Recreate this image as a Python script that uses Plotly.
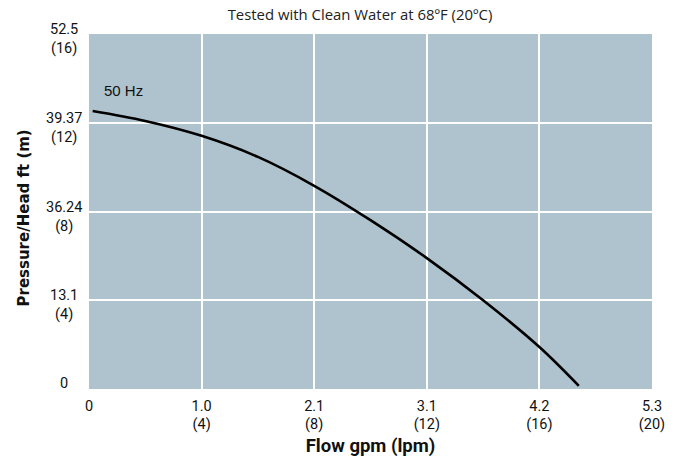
import plotly.graph_objects as go

# pump curve (lpm vs metres of head)
flow_lpm = [0.13, 2, 4, 6, 8, 10, 12, 14, 16, 17.4]
head_m = [12.53, 12.08, 11.41, 10.46, 9.16, 7.61, 5.9, 4.0, 1.89, 0.14]

x_ticks = [0, 4, 8, 12, 16, 20]
x_labels = ["0", "1.0<br>(4)", "2.1<br>(8)", "3.1<br>(12)", "4.2<br>(16)", "5.3<br>(20)"]
y_ticks = [0, 4, 8, 12, 16]
y_labels = ["0", "13.1<br>(4)", "36.24<br>(8)", "39.37<br>(12)", "52.5<br>(16)"]

tick_font = "Roboto, Liberation Sans, sans-serif"
plot_bg = "#aec3cd"

fig = go.Figure()
fig.add_trace(go.Scatter(
    x=flow_lpm, y=head_m, mode="lines",
    line=dict(color="black", width=2.6, shape="spline", smoothing=1.0),
    showlegend=False, hoverinfo="skip",
))

# y labels as centred annotations (two-line labels are centred in the original)
for val, txt in zip(y_ticks, y_labels):
    fig.add_annotation(
        x=0, xref="paper", y=val, yref="y", text=txt, showarrow=False,
        xanchor="center", yanchor="middle", align="center",
        xshift=-25, yshift=6 if val == 0 else -5,
        font=dict(family=tick_font, size=14.5, color="#111"),
    )

fig.add_annotation(
    x=0.46, y=13.47, text="50 Hz", showarrow=False, xanchor="left",
    font=dict(family="Liberation Sans, Arial, sans-serif", size=15, color="#111"),
)

fig.update_layout(
    width=674, height=459,
    margin=dict(l=89, r=22, t=34, b=70),
    paper_bgcolor="white", plot_bgcolor=plot_bg,
    title=dict(
        text="Tested with Clean Water at 68ºF (20ºC)",
        x=360 / 674, xanchor="center", y=1 - 15 / 459, yanchor="middle",
        font=dict(family="Open Sans, Noto Sans, sans-serif", size=14.9, color="#222"),
    ),
    xaxis=dict(
        range=[0, 20], tickvals=x_ticks, ticktext=x_labels,
        showgrid=True, gridcolor="white", gridwidth=1.5, zeroline=False,
        showline=False, ticks="", ticklabelstandoff=6, automargin=False,
        tickfont=dict(family=tick_font, size=14.5, color="#111"),
        title=dict(text="<b>Flow gpm (lpm)</b>", standoff=6,
                   font=dict(family=tick_font, size=18.5, color="#111")),
        fixedrange=True,
    ),
    yaxis=dict(
        range=[0, 16], tickvals=y_ticks, showticklabels=False,
        showgrid=True, gridcolor="white", gridwidth=1.5, zeroline=False,
        showline=False, ticks="", automargin=False,
        fixedrange=True,
    ),
)

fig.add_annotation(
    x=0, xref="paper", y=0.5, yref="paper", text="<b>Pressure/Head ft (m)</b>",
    textangle=-90, showarrow=False, xanchor="center", yanchor="middle",
    xshift=-65.5, yshift=-6.5,
    font=dict(family="DejaVu Sans, Liberation Sans, sans-serif", size=15, color="#111"),
)

# drop the default 8px body margin so the figure fills the window exactly
fig.write_html("out.html", config={"displayModeBar": False},
               post_script="document.body.style.margin='0';")
